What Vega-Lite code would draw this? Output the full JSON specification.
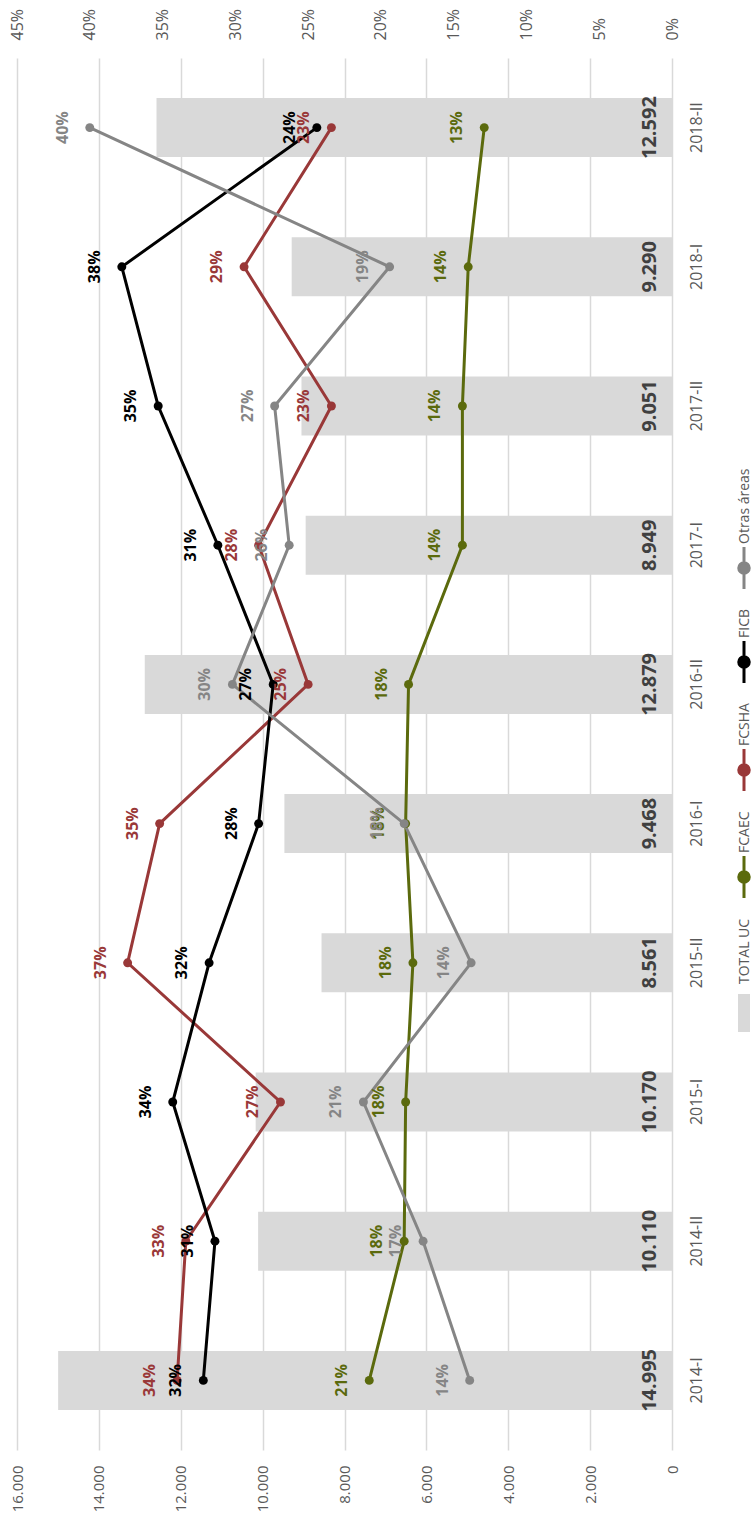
{
  "$schema": "https://vega.github.io/schema/vega-lite/v6.json",
  "autosize": {"type": "none"},
  "padding": {"left": 17, "top": 58, "right": 81, "bottom": 75},
  "width": 655,
  "height": 1392,
  "config": {
    "locale": {"number": {"decimal": ",", "thousands": ".", "grouping": [3], "currency": ["", " €"]}},
    "font": "Open Sans",
    "view": {"stroke": null},
    "axis": {"labelFont": "Open Sans", "labelColor": "#595959", "labelFontSize": 15, "domain": false, "ticks": false, "tickSize": 0, "title": null}
  },
  "datasets": {
    "totals": [
      {"period": "2014-I", "total": 14995},
      {"period": "2014-II", "total": 10110},
      {"period": "2015-I", "total": 10170},
      {"period": "2015-II", "total": 8561},
      {"period": "2016-I", "total": 9468},
      {"period": "2016-II", "total": 12879},
      {"period": "2017-I", "total": 8949},
      {"period": "2017-II", "total": 9051},
      {"period": "2018-I", "total": 9290},
      {"period": "2018-II", "total": 12592}
    ],
    "shares": [
      {"period": "2014-I", "serie": "FCAEC", "pct": 0.208},
      {"period": "2014-II", "serie": "FCAEC", "pct": 0.184},
      {"period": "2015-I", "serie": "FCAEC", "pct": 0.183},
      {"period": "2015-II", "serie": "FCAEC", "pct": 0.178},
      {"period": "2016-I", "serie": "FCAEC", "pct": 0.183},
      {"period": "2016-II", "serie": "FCAEC", "pct": 0.181},
      {"period": "2017-I", "serie": "FCAEC", "pct": 0.144},
      {"period": "2017-II", "serie": "FCAEC", "pct": 0.144},
      {"period": "2018-I", "serie": "FCAEC", "pct": 0.140},
      {"period": "2018-II", "serie": "FCAEC", "pct": 0.129},
      {"period": "2014-I", "serie": "FCSHA", "pct": 0.340},
      {"period": "2014-II", "serie": "FCSHA", "pct": 0.334},
      {"period": "2015-I", "serie": "FCSHA", "pct": 0.269},
      {"period": "2015-II", "serie": "FCSHA", "pct": 0.374},
      {"period": "2016-I", "serie": "FCSHA", "pct": 0.352},
      {"period": "2016-II", "serie": "FCSHA", "pct": 0.250},
      {"period": "2017-I", "serie": "FCSHA", "pct": 0.284},
      {"period": "2017-II", "serie": "FCSHA", "pct": 0.234},
      {"period": "2018-I", "serie": "FCSHA", "pct": 0.294},
      {"period": "2018-II", "serie": "FCSHA", "pct": 0.234},
      {"period": "2014-I", "serie": "FICB", "pct": 0.322},
      {"period": "2014-II", "serie": "FICB", "pct": 0.314},
      {"period": "2015-I", "serie": "FICB", "pct": 0.343},
      {"period": "2015-II", "serie": "FICB", "pct": 0.318},
      {"period": "2016-I", "serie": "FICB", "pct": 0.284},
      {"period": "2016-II", "serie": "FICB", "pct": 0.274},
      {"period": "2017-I", "serie": "FICB", "pct": 0.312},
      {"period": "2017-II", "serie": "FICB", "pct": 0.353},
      {"period": "2018-I", "serie": "FICB", "pct": 0.378},
      {"period": "2018-II", "serie": "FICB", "pct": 0.244},
      {"period": "2014-I", "serie": "Otras áreas", "pct": 0.139},
      {"period": "2014-II", "serie": "Otras áreas", "pct": 0.171},
      {"period": "2015-I", "serie": "Otras áreas", "pct": 0.212},
      {"period": "2015-II", "serie": "Otras áreas", "pct": 0.138},
      {"period": "2016-I", "serie": "Otras áreas", "pct": 0.184},
      {"period": "2016-II", "serie": "Otras áreas", "pct": 0.302},
      {"period": "2017-I", "serie": "Otras áreas", "pct": 0.263},
      {"period": "2017-II", "serie": "Otras áreas", "pct": 0.273},
      {"period": "2018-I", "serie": "Otras áreas", "pct": 0.194},
      {"period": "2018-II", "serie": "Otras áreas", "pct": 0.400}
    ]
  },
  "layer": [
    {
      "data": {"name": "totals"},
      "layer": [
        {
          "mark": {"type": "bar"},
          "encoding": {
            "y": {"field": "period", "type": "nominal", "sort": ["2018-II", "2018-I", "2017-II", "2017-I", "2016-II", "2016-I", "2015-II", "2015-I", "2014-II", "2014-I"], "scale": {"paddingInner": 0.576, "paddingOuter": 0.288}, "axis": {"orient": "right", "labelAngle": 270, "labelAlign": "center", "labelBaseline": "top", "labelPadding": 16, "labelFontSize": 16, "grid": false}},
            "x": {"field": "total", "type": "quantitative", "scale": {"domain": [0, 16000], "reverse": true, "nice": false}, "axis": {"orient": "bottom", "values": [0, 2000, 4000, 6000, 8000, 10000, 12000, 14000, 16000], "format": ",.0f", "labelAngle": 270, "labelAlign": "right", "labelBaseline": "middle", "labelPadding": 15, "grid": true, "gridColor": "#d9d9d9", "gridWidth": 1.5}},
            "color": {"datum": "TOTAL UC", "type": "nominal"}
          }
        },
        {
          "mark": {"type": "text", "angle": 270, "align": "center", "baseline": "middle", "dy": -22, "fontSize": 20, "fontWeight": "bold", "color": "#404040"},
          "encoding": {
            "y": {"field": "period", "type": "nominal", "sort": ["2018-II", "2018-I", "2017-II", "2017-I", "2016-II", "2016-I", "2015-II", "2015-I", "2014-II", "2014-I"], "scale": {"paddingInner": 0.576, "paddingOuter": 0.288}, "axis": {"orient": "right", "labelAngle": 270, "labelAlign": "center", "labelBaseline": "top", "labelPadding": 16, "labelFontSize": 16, "grid": false}},
            "x": {"datum": 0, "type": "quantitative"},
            "text": {"field": "total", "type": "quantitative", "format": ",.0f"}
          }
        }
      ]
    },
    {
      "data": {"name": "shares"},
      "layer": [
        {
          "mark": {"type": "line", "strokeWidth": 3},
          "encoding": {
            "y": {"field": "period", "type": "nominal", "sort": ["2018-II", "2018-I", "2017-II", "2017-I", "2016-II", "2016-I", "2015-II", "2015-I", "2014-II", "2014-I"], "scale": {"paddingInner": 0.576, "paddingOuter": 0.288}, "axis": {"orient": "right", "labelAngle": 270, "labelAlign": "center", "labelBaseline": "top", "labelPadding": 16, "labelFontSize": 16, "grid": false}},
            "x": {"field": "pct", "type": "quantitative", "scale": {"domain": [0, 0.45], "reverse": true, "nice": false}, "axis": {"orient": "top", "values": [0, 0.05, 0.1, 0.15, 0.2, 0.25, 0.3, 0.35, 0.4, 0.45], "format": ".0%", "labelAngle": 270, "labelAlign": "left", "labelBaseline": "middle", "labelPadding": 18, "labelFontSize": 16, "grid": false}},
            "color": {
              "field": "serie", "type": "nominal",
              "scale": {"domain": ["Otras áreas", "FICB", "FCSHA", "FCAEC", "TOTAL UC"], "range": ["#858585", "#000000", "#993838", "#5b6a0d", "#d9d9d9"]},
              "legend": {
                "title": null, "orient": "none", "legendX": 720, "legendY": 503, "direction": "vertical",
                "padding": 0, "rowPadding": 14, "labelFontSize": 14, "labelColor": "#595959", "labelFont": "Open Sans",
                "labelOffset": -6, "symbolSize": 1764, "symbolStrokeWidth": 3,
                "symbolType": "M0,-1L0,1M-0.25,0A0.25,0.25,0,1,1,0.25,0A0.25,0.25,0,1,1,-0.25,0Z",
                "encode": {
                  "symbols": {"update": {
                    "shape": {"signal": "datum.value === 'TOTAL UC' ? 'M-0.3,-0.95H0.3V0.95H-0.3Z' : 'M0,-1L0,1M-0.25,0A0.25,0.25,0,1,1,0.25,0A0.25,0.25,0,1,1,-0.25,0Z'"},
                    "size": {"signal": "datum.value === 'TOTAL UC' ? 1600 : 1764"},
                    "fill": {"signal": "scale('color', datum.value)"},
                    "stroke": {"signal": "scale('color', datum.value)"},
                    "strokeWidth": {"signal": "datum.value === 'TOTAL UC' ? 0 : 3"},
                    "opacity": {"value": 1}
                  }},
                  "labels": {"update": {
                    "angle": {"value": 270},
                    "align": {"value": "left"},
                    "baseline": {"value": "middle"},
                    "dx": {"signal": "datum.value === 'TOTAL UC' ? 29 : 24"}
                  }}
                }
              }
            }
          }
        },
        {
          "mark": {"type": "point", "filled": true, "size": 80, "opacity": 1},
          "encoding": {
            "y": {"field": "period", "type": "nominal", "sort": ["2018-II", "2018-I", "2017-II", "2017-I", "2016-II", "2016-I", "2015-II", "2015-I", "2014-II", "2014-I"], "scale": {"paddingInner": 0.576, "paddingOuter": 0.288}, "axis": {"orient": "right", "labelAngle": 270, "labelAlign": "center", "labelBaseline": "top", "labelPadding": 16, "labelFontSize": 16, "grid": false}},
            "x": {"field": "pct", "type": "quantitative", "scale": {"domain": [0, 0.45], "reverse": true, "nice": false}, "axis": {"orient": "top", "values": [0, 0.05, 0.1, 0.15, 0.2, 0.25, 0.3, 0.35, 0.4, 0.45], "format": ".0%", "labelAngle": 270, "labelAlign": "left", "labelBaseline": "middle", "labelPadding": 18, "labelFontSize": 16, "grid": false}},
            "color": {"field": "serie", "type": "nominal", "legend": null}
          }
        },
        {
          "mark": {"type": "text", "angle": 270, "align": "center", "baseline": "middle", "dy": -27, "fontSize": 16, "fontWeight": "bold"},
          "encoding": {
            "y": {"field": "period", "type": "nominal", "sort": ["2018-II", "2018-I", "2017-II", "2017-I", "2016-II", "2016-I", "2015-II", "2015-I", "2014-II", "2014-I"], "scale": {"paddingInner": 0.576, "paddingOuter": 0.288}, "axis": {"orient": "right", "labelAngle": 270, "labelAlign": "center", "labelBaseline": "top", "labelPadding": 16, "labelFontSize": 16, "grid": false}},
            "x": {"field": "pct", "type": "quantitative", "scale": {"domain": [0, 0.45], "reverse": true, "nice": false}, "axis": {"orient": "top", "values": [0, 0.05, 0.1, 0.15, 0.2, 0.25, 0.3, 0.35, 0.4, 0.45], "format": ".0%", "labelAngle": 270, "labelAlign": "left", "labelBaseline": "middle", "labelPadding": 18, "labelFontSize": 16, "grid": false}},
            "text": {"field": "pct", "type": "quantitative", "format": ".0%"},
            "color": {"field": "serie", "type": "nominal", "legend": null}
          }
        }
      ]
    }
  ],
  "resolve": {"scale": {"x": "independent"}, "axis": {"x": "independent"}}
}
